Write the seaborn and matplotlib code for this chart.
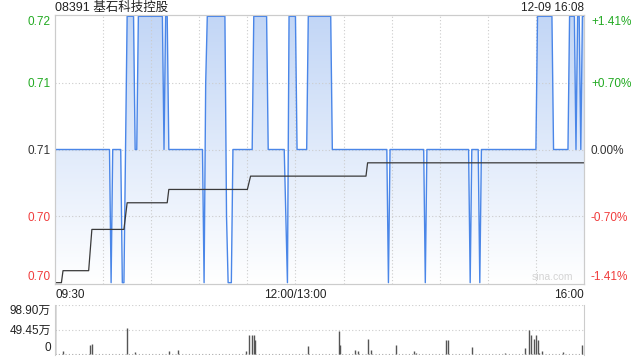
import numpy as np
import pandas as pd
import matplotlib
matplotlib.use("Agg")
import matplotlib.pyplot as plt
import seaborn as sns
from matplotlib.colors import LinearSegmentedColormap

# ---------------- data ----------------
title_text = "08391 基石科技控股"
stamp_text = "12-09 16:08"

# price per minute, encoded as runs: value, number of minutes (09:30 .. 16:00, 331 points)
price_values = [0.71, 0.70, 0.71, 0.70, 0.71, 0.72, 0.71, 0.72, 0.71, 0.72,
                0.71, 0.70, 0.715, 0.72, 0.705, 0.70, 0.71, 0.72, 0.71, 0.705,
                0.70, 0.72, 0.71, 0.72, 0.71, 0.70, 0.71, 0.70, 0.71, 0.70,
                0.71, 0.70, 0.71, 0.72, 0.71, 0.72, 0.71, 0.72, 0.71, 0.72]
price_counts = [35, 1, 6, 2, 1, 5, 2, 16, 1, 2,
                22, 1, 1, 12, 1, 3, 13, 9, 11, 1,
                1, 5, 7, 15, 35, 1, 22, 1, 27, 1,
                5, 1, 35, 10, 10, 4, 1, 2, 1, 2]

# average price per minute, runs
avg_values = [0.7000, 0.7009, 0.7025, 0.7040, 0.7050, 0.7060, 0.7070, 0.7075, 0.7080, 0.7090]
avg_counts = [5, 17, 1, 21, 1, 26, 50, 1, 73, 136]

# volume (万股) at minutes with trades
vol_minutes = [0, 5, 22, 23, 45, 50, 71, 77, 119, 121, 123, 124, 125, 158, 177, 178,
               187, 189, 195, 197, 213, 224, 225, 244, 245, 260, 281, 293, 296, 297,
               299, 300, 301, 302, 304, 317, 329]
vol_values = [98.9, 6.6, 18.5, 21.0, 52.8, 4.6, 6.6, 9.2, 6.6, 38.0, 38.0, 38.0, 28.4, 16.5,
              46.9, 18.5, 8.6, 6.6, 30.4, 8.6, 18.5, 6.6, 3.3, 28.4, 28.4, 14.5, 3.3, 11.9,
              48.0, 38.0, 30.4, 38.0, 28.4, 3.3, 6.6, 4.6, 18.5]

price_ticks = [0.70, 0.705, 0.71, 0.715, 0.72]
price_labels = ["0.70", "0.70", "0.71", "0.71", "0.72"]
pct_labels = ["-1.41%", "-0.70%", "0.00%", "+0.70%", "+1.41%"]
label_colors = ["#f03c3c", "#f03c3c", "#333333", "#22aa22", "#22aa22"]

time_ticks = [0, 150, 330]
time_labels = ["09:30", "12:00/13:00", "16:00"]

vol_ticks = [0, 49.45, 98.9]
vol_labels = ["0", "49.45万", "98.90万"]

# ---------------- frames ----------------
minutes = np.arange(331)
df = pd.DataFrame({
    "minute": minutes,
    "price": np.repeat(price_values, price_counts),
    "avg": np.repeat(avg_values, avg_counts),
})
vol = pd.DataFrame({"minute": vol_minutes, "volume": vol_values})

# ---------------- style ----------------
sns.set_style("white")
plt.rcParams["font.family"] = ["Liberation Sans", "Noto Sans CJK SC", "DejaVu Sans"]

W, H = 640, 360
fig = plt.figure(figsize=(6.4, 3.6), dpi=100)
L, R = 55, 584
ax = fig.add_axes([L / W, (H - 284) / H, (R - L) / W, (284 - 15) / H])
axv = fig.add_axes([L / W, (H - 354.5) / H, (R - L) / W, (354.5 - 305) / H])

ymin, ymax = 0.6999, 0.7201
grid_c = "#cccccc"

# gradient fill under price line
fill = ax.fill_between(df["minute"], df["price"], ymin, facecolor="none", edgecolor="none")
grad = np.linspace(0, 1, 256).reshape(-1, 1)
cmap = LinearSegmentedColormap.from_list("g", ["#ffffff", "#c2d6f6"])
im = ax.imshow(grad, extent=[0, 330, ymin, ymax], origin="lower", aspect="auto",
               cmap=cmap, zorder=1, interpolation="bilinear")
im.set_clip_path(fill.get_paths()[0], transform=ax.transData)

# grid
for gx in range(30, 330, 30):
    ax.axvline(gx, color=grid_c, lw=0.8, ls=(0, (1, 2)), zorder=2)
for gy in [0.705, 0.71, 0.715]:
    ax.axhline(gy, color=grid_c, lw=0.8, ls=(0, (1, 2)), zorder=2)

sns.lineplot(data=df, x="minute", y="price", ax=ax, color="#4a86e8", lw=1.0,
             estimator=None, zorder=3)
sns.lineplot(data=df, x="minute", y="avg", ax=ax, color="#3a3a3a", lw=0.9,
             estimator=None, zorder=4)

ax.set_xlim(0, 330)
ax.set_ylim(ymin, ymax)
ax.set_xlabel("")
ax.set_ylabel("")
for s in ax.spines.values():
    s.set_color(grid_c)
    s.set_linewidth(0.8)

ax.set_yticks(price_ticks)
ax.set_yticklabels(price_labels, fontsize=8.5)
for t, c in zip(ax.get_yticklabels(), label_colors):
    t.set_color(c)
yl = ax.get_yticklabels()
yl[0].set_va("bottom")
yl[-1].set_va("top")
ax.tick_params(axis="y", length=0, pad=3)

ax.set_xticks(time_ticks)
ax.set_xticklabels(time_labels, fontsize=8.5, color="#222222")
xl = ax.get_xticklabels()
xl[0].set_ha("left")
xl[-1].set_ha("right")
ax.tick_params(axis="x", length=0, pad=3.5)

ax2 = ax.twinx()
ax2.set_ylim(ymin, ymax)
ax2.set_yticks(price_ticks)
ax2.set_yticklabels(pct_labels, fontsize=8.5)
for t, c in zip(ax2.get_yticklabels(), label_colors):
    t.set_color(c)
yr = ax2.get_yticklabels()
yr[0].set_va("bottom")
yr[-1].set_va("top")
ax2.tick_params(axis="y", length=0, pad=5)
for s in ax2.spines.values():
    s.set_color(grid_c)
    s.set_linewidth(0.8)

ax.text(0.979, 0.006, "sina.com", transform=ax.transAxes, ha="right", va="bottom",
        fontsize=7.5, color="#d4d4d4", zorder=5)

# volume panel
for gy in vol_ticks:
    axv.axhline(gy, color="#aaaaaa" if gy == 0 else grid_c, lw=0.8, ls=(0, (1, 2)), zorder=1)
axv.vlines(vol["minute"], 0, vol["volume"], colors="#555555", lw=1.0, zorder=2)
axv.set_xlim(0, 330)
axv.set_ylim(-0.4, 98.9)
axv.set_xticks([])
axv.set_yticks(vol_ticks)
axv.set_yticklabels(vol_labels, fontsize=8.5, color="#222222")
vl = axv.get_yticklabels()
vl[0].set_va("bottom")
vl[-1].set_va("top")
axv.tick_params(axis="y", length=0, pad=3)
for k, s in axv.spines.items():
    if k in ("top", "bottom"):
        s.set_visible(False)
    else:
        s.set_color(grid_c)
        s.set_linewidth(0.8)

fig.text(L / W, 1 - 8 / H, title_text, ha="left", va="center", fontsize=9, color="#222222")
fig.text(R / W, 1 - 8 / H, stamp_text, ha="right", va="center", fontsize=8.5, color="#222222")

fig.savefig("out.png", dpi=100)
